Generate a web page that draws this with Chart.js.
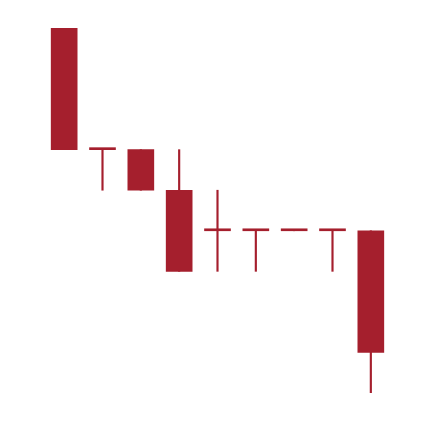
<!DOCTYPE html>
<html>
<head>
<meta charset="utf-8">
<script src="https://cdn.jsdelivr.net/npm/chart.js@4"></script>
<style>
  html, body { margin: 0; padding: 0; background: #ffffff; }
  #wrap { width: 434px; height: 422px; }
</style>
</head>
<body>
<div id="wrap"><canvas id="c" width="434" height="422"></canvas></div>
<script>
const categories = ['1', '2', '3', '4', '5', '6', '7', '8', '9'];
const opens  = [10, 7, 7, 6, 5, 5, 5, 5, 5];
const highs  = [10, 7, 7, 7, 6, 5, 5, 5, 5];
const lows   = [7, 6, 6, 4, 4, 4, 5, 4, 1];
const closes = [7, 7, 6, 4, 5, 5, 5, 5, 2];

const RED = '#a51f2d';

const bodies = opens.map((o, i) => [closes[i], o]);
const wicks = lows.map((l, i) => [l, highs[i]]);

new Chart(document.getElementById('c'), {
  type: 'bar',
  data: {
    labels: categories,
    datasets: [
      {
        label: 'wick',
        data: wicks,
        backgroundColor: RED,
        barThickness: 1.5,
        grouped: false,
        order: 2
      },
      {
        label: 'body',
        data: bodies,
        backgroundColor: RED,
        barThickness: 26,
        minBarLength: 2,
        grouped: false,
        order: 1
      }
    ]
  },
  options: {
    responsive: false,
    animation: false,
    layout: { padding: { top: 28, bottom: 29, left: 45, right: 44 } },
    plugins: { legend: { display: false }, tooltip: { enabled: false } },
    scales: {
      x: { display: false, offset: true, grid: { display: false } },
      y: { display: false, min: 1, max: 10, grid: { display: false } }
    }
  }
});
</script>
</body>
</html>
